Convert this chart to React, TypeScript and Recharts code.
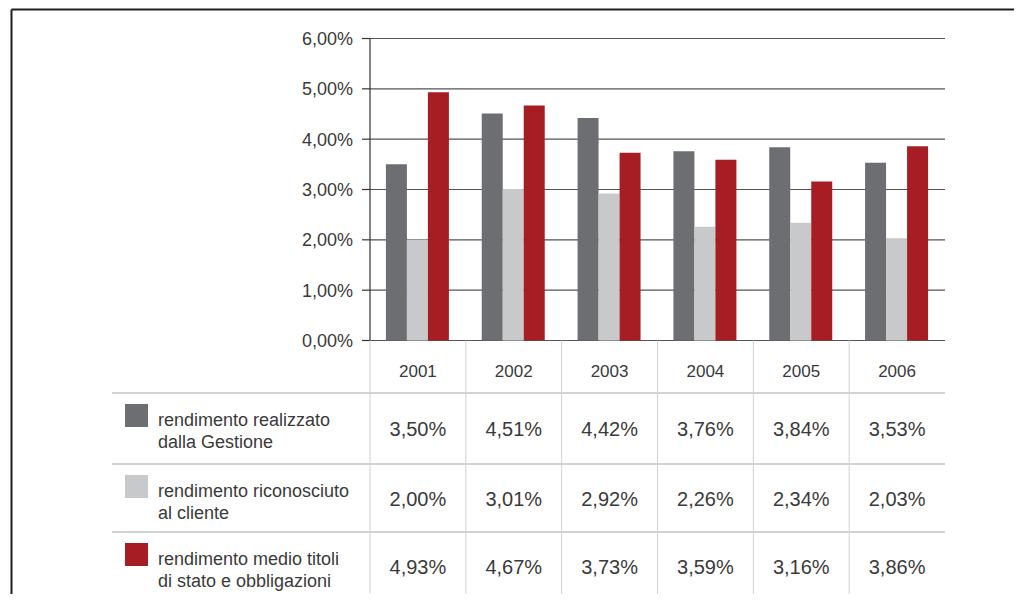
import React from 'react';
import { BarChart, Bar, XAxis, YAxis, CartesianGrid } from 'recharts';

const years = ['2001', '2002', '2003', '2004', '2005', '2006'];
const realizzato = [3.5, 4.51, 4.42, 3.76, 3.84, 3.53];
const riconosciuto = [2.0, 3.01, 2.92, 2.26, 2.34, 2.03];
const medioTitoli = [4.93, 4.67, 3.73, 3.59, 3.16, 3.86];
const yTicks = [0, 1, 2, 3, 4, 5, 6];
const seriesLabels = [
  ['rendimento realizzato', 'dalla Gestione'],
  ['rendimento riconosciuto', 'al cliente'],
  ['rendimento medio titoli', 'di stato e obbligazioni'],
];
const seriesColors = ['#6d6e71', '#c8c9cb', '#a61e23'];
const seriesValues = [realizzato, riconosciuto, medioTitoli];

const data = years.map((y, i) => ({ year: y, a: realizzato[i], b: riconosciuto[i], c: medioTitoli[i] }));

const W = 1022;
const H = 602;
const PLOT_LEFT = 370;
const PLOT_RIGHT = 945;
const PLOT_TOP = 38.5;
const PLOT_BOTTOM = 340.5;
const COL_W = (PLOT_RIGHT - PLOT_LEFT) / years.length;
const ROWS = [
  { top: 393, bottom: 464 },
  { top: 464, bottom: 532 },
  { top: 532, bottom: 601 },
];
const TEXT = '#3a3a3a';
const FONT = '"Liberation Sans", Arial, Helvetica, sans-serif';
const TABLE_LINE = '#d2d2d2';

const fmt = (v: number) => v.toFixed(2).replace('.', ',') + '%';

function TableTick(props: any) {
  const { x, payload } = props;
  const i = payload.index;
  const half = COL_W / 2;
  return (
    <g>
      {i === 0 && (
        <line x1={x - half} x2={x - half} y1={PLOT_BOTTOM} y2={H} stroke={TABLE_LINE} strokeWidth={1} />
      )}
      {i < years.length - 1 && (
        <line x1={x + half} x2={x + half} y1={PLOT_BOTTOM} y2={H} stroke={TABLE_LINE} strokeWidth={1} />
      )}
      <text x={x} y={377} textAnchor="middle" fontSize={17} fill={TEXT} fontFamily={FONT}>
        {payload.value}
      </text>
      {seriesValues.map((arr, r) => (
        <text
          key={r}
          x={x}
          y={(ROWS[r].top + ROWS[r].bottom) / 2 + 7.5}
          textAnchor="middle"
          fontSize={20}
          fill={TEXT}
          fontFamily={FONT}
        >
          {fmt(arr[i])}
        </text>
      ))}
    </g>
  );
}

export default function App() {
  return (
    <div style={{ position: 'relative', width: W, height: H, margin: -8, background: '#ffffff', overflow: 'hidden' }}>
      <BarChart
        width={W}
        height={H}
        data={data}
        margin={{ top: PLOT_TOP, right: W - PLOT_RIGHT, left: PLOT_LEFT - 70, bottom: 0 }}
        barCategoryGap="16.6%"
        barGap={0}
      >
        <CartesianGrid vertical={false} stroke="#555" strokeWidth={1.2} />
        <XAxis
          dataKey="year"
          height={H - PLOT_BOTTOM}
          axisLine={false}
          tickLine={false}
          interval={0}
          tick={<TableTick />}
        />
        <YAxis
          width={70}
          domain={[0, 6]}
          ticks={yTicks}
          tickFormatter={(v: number) => fmt(v)}
          axisLine={{ stroke: '#333', strokeWidth: 1.2 }}
          tickLine={{ stroke: '#333', strokeWidth: 1.2 }}
          tickSize={8}
          tickMargin={9}
          tick={{ fill: TEXT, fontSize: 18, fontFamily: FONT }}
        />
        <Bar dataKey="a" fill={seriesColors[0]} isAnimationActive={false} />
        <Bar dataKey="b" fill={seriesColors[1]} isAnimationActive={false} />
        <Bar dataKey="c" fill={seriesColors[2]} isAnimationActive={false} />
      </BarChart>
      <svg
        width={W}
        height={H}
        style={{ position: 'absolute', left: 0, top: 0, pointerEvents: 'none' }}
      >
        <line x1={11.5} y1={9.5} x2={W} y2={9.5} stroke="#1e1e1e" strokeWidth={2} />
        <line x1={11.5} y1={9.5} x2={11.5} y2={H} stroke="#1e1e1e" strokeWidth={2} />
        {ROWS.map((r, k) => (
          <line key={'h' + k} x1={112} x2={PLOT_RIGHT} y1={r.top} y2={r.top} stroke={TABLE_LINE} strokeWidth={2} />
        ))}
        <line x1={112} x2={PLOT_RIGHT} y1={601} y2={601} stroke={TABLE_LINE} strokeWidth={2} />
        {ROWS.map((r, k) => (
          <g key={'l' + k}>
            <rect x={125} y={r.top + 11} width={23} height={23} fill={seriesColors[k]} />
            <text x={158} y={r.top + 33} fontSize={18} fill={TEXT} fontFamily={FONT}>
              {seriesLabels[k][0]}
            </text>
            <text x={158} y={r.top + 55} fontSize={18} fill={TEXT} fontFamily={FONT}>
              {seriesLabels[k][1]}
            </text>
          </g>
        ))}
      </svg>
    </div>
  );
}
